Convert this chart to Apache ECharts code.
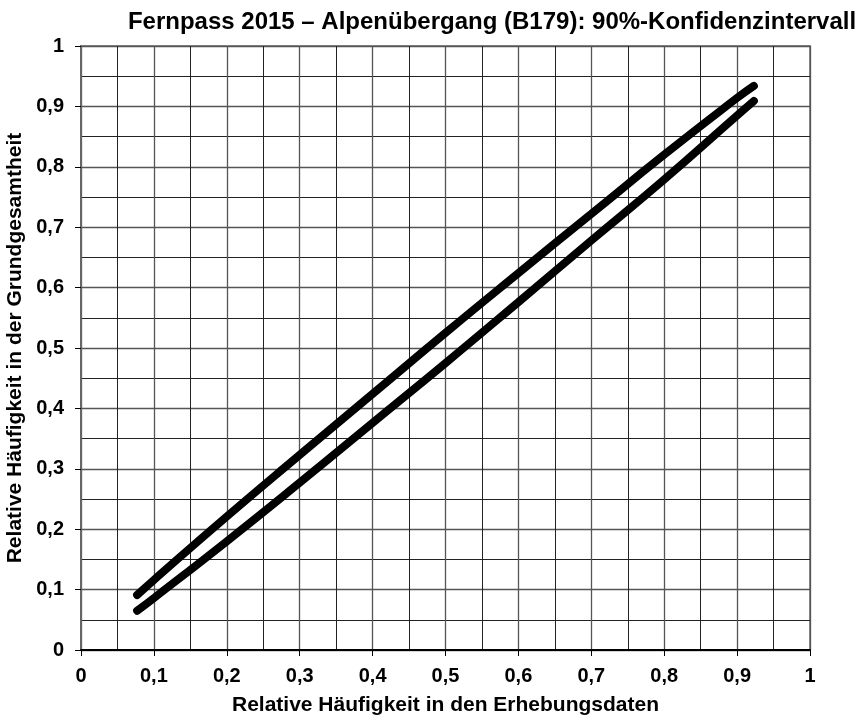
<!DOCTYPE html>
<html>
<head>
<meta charset="utf-8">
<script src="https://cdn.jsdelivr.net/npm/echarts@6/dist/echarts.min.js"></script>
<style>
  html, body { margin:0; padding:0; background:#fff; }
  #chart { width:862px; height:722px; }
</style>
</head>
<body>
<div id="chart"></div>
<script>
// Werte
const xWerte = [0.077, 0.1, 0.2, 0.3, 0.4, 0.5, 0.6, 0.7, 0.8, 0.9, 0.923]
const obereGrenze = [0.091, 0.116, 0.221, 0.323, 0.424, 0.525, 0.624, 0.722, 0.82, 0.914, 0.934]
const untereGrenze = [0.065, 0.086, 0.18, 0.277, 0.376, 0.475, 0.576, 0.678, 0.779, 0.885, 0.909]

function fmt(v){
  if (Math.abs(v) < 1e-9) return '0'
  if (Math.abs(v - 1) < 1e-9) return '1'
  return v.toFixed(1).replace('.', ',')
}

const schrift = 'Liberation Sans, Arial'
const labelStyle = { color:'#000', fontFamily:schrift, fontWeight:'bold', fontSize:20 }

function achse(name, gap, margin, linie){
  return {
    type:'value', min:0, max:1, interval:0.1,
    name:name, nameLocation:'middle', nameGap:gap,
    nameTextStyle:{ color:'#000', fontFamily:schrift, fontWeight:'bold', fontSize:21 },
    axisLine:{ show:true, onZero:false, lineStyle:{ color:linie, width:2 } },
    axisTick:{ show:true, length:6, lineStyle:{ color:'#000' } },
    axisLabel:Object.assign({ formatter:fmt, margin:margin }, labelStyle),
    splitLine:{ show:true, lineStyle:{ color:'#555', width:1.3 } },
    minorTick:{ show:false, splitNumber:2 },
    minorSplitLine:{ show:true, lineStyle:{ color:'#222', width:1 } }
  }
}

const chart = echarts.init(document.getElementById('chart'))
chart.setOption({
  animation:false,
  backgroundColor:'#fff',
  title:{
    text:'Fernpass 2015 – Alpenübergang (B179): 90%-Konfidenzintervall',
    left:487, top:5, textAlign:'center',
    textStyle:{ color:'#000', fontFamily:schrift, fontWeight:'bold', fontSize:24 }
  },
  grid:{ left:81, right:52, top:46, bottom:72, outerBoundsMode:'none', show:true, borderColor:'#8a8a8a', borderWidth:2, backgroundColor:'#fff' },
  xAxis:achse('Relative Häufigkeit in den Erhebungsdaten', 45, 16, '#000'),
  yAxis:achse('Relative Häufigkeit in der Grundgesamtheit', 52, 17, '#666'),
  series:[
    {
      name:'obere Grenze', type:'line', showSymbol:false, smooth:true,
      data:xWerte.map((x, i) => [x, obereGrenze[i]]),
      lineStyle:{ color:'#000', width:8, cap:'round' }
    },
    {
      name:'untere Grenze', type:'line', showSymbol:false, smooth:true,
      data:xWerte.map((x, i) => [x, untereGrenze[i]]),
      lineStyle:{ color:'#000', width:8, cap:'round' }
    }
  ]
})
</script>
</body>
</html>
